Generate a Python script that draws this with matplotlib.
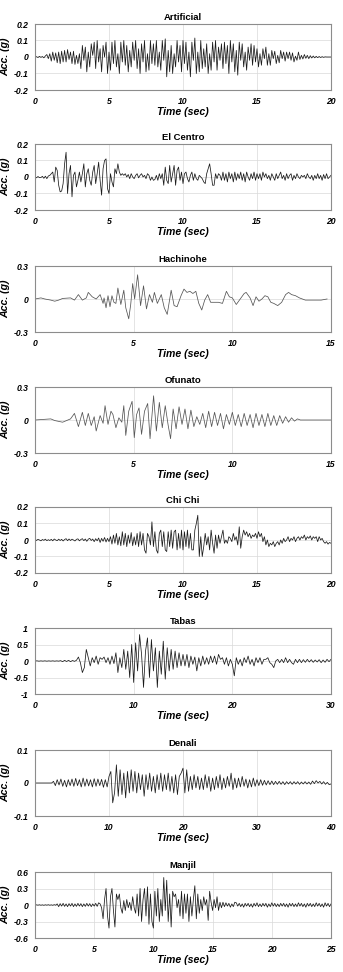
import numpy as np
import matplotlib
matplotlib.use("Agg")
import matplotlib.pyplot as plt
from matplotlib.ticker import FormatStrFormatter

plt.rcParams['font.family'] = ['Liberation Sans', 'DejaVu Sans']

# ---- data (acceleration in g) ----
names = ["Artificial", "El Centro", "Hachinohe", "Ofunato",
         "Chi Chi", "Tabas", "Denali", "Manjil"]
durations = [20, 20, 15, 15, 20, 30, 40, 25]
xticks = [[0, 5, 10, 15, 20], [0, 5, 10, 15, 20], [0, 5, 10, 15], [0, 5, 10, 15],
          [0, 5, 10, 15, 20], [0, 10, 20, 30], [0, 10, 20, 30, 40], [0, 5, 10, 15, 20, 25]]
yticks = [[-0.2, -0.1, 0, 0.1, 0.2], [-0.2, -0.1, 0, 0.1, 0.2], [-0.3, 0, 0.3], [-0.3, 0, 0.3],
          [-0.2, -0.1, 0, 0.1, 0.2], [-1, -0.5, 0, 0.5, 1], [-0.1, 0, 0.1],
          [-0.6, -0.3, 0, 0.3, 0.6]]

# Artificial, dt = 0.1 s
artificial = [
    0, 0.002, -0.003, 0.004, -0.002, 0.003, -0.005, 0.006,
    0.015, -0.01, 0.02, -0.025, 0.03, -0.02, 0.025, -0.035, 0.03, -0.04, 0.035, -0.03,
    0.04, -0.03, 0.045, -0.015, 0.03, -0.04, 0.035, -0.045, 0.01, -0.04,
    0.02, -0.07, 0.07, -0.02, 0.06, -0.09, 0.03, -0.06, 0.08, 0.01,
    0.09, -0.07, 0.1, -0.03, 0.05, -0.09, 0.07, 0.0, 0.09, -0.1,
    0.03, -0.08, 0.09, -0.04, 0.1, -0.06, 0.02, -0.1, 0.09, -0.03,
    0.1, -0.05, 0.07, -0.09, 0.04, -0.06, 0.09, -0.02, 0.1, -0.07,
    0.05, -0.1, 0.08, -0.03, 0.1, -0.09, 0.02, -0.08, 0.1, -0.04,
    0.08, -0.05, 0.1, -0.06, 0.03, -0.08, 0.1, -0.02, 0.11, -0.12,
    0.04, -0.09, 0.07, -0.1, 0.02, -0.06, 0.1, -0.03, 0.07, -0.09,
    0.1, -0.04, 0.09, -0.08, 0.03, -0.12, 0.09, -0.02, 0.115, -0.1,
    0.03, -0.09, 0.1, -0.07, 0.05, -0.06, 0.08, -0.1, 0.02, -0.08,
    0.09, -0.03, 0.1, -0.08, 0.06, -0.02, 0.08, -0.07, 0.09, -0.04,
    0.07, -0.1, 0.1, -0.03, 0.08, -0.09, 0.04, -0.11, 0.09, -0.02,
    0.08, -0.06, 0.03, -0.08, 0.06, -0.02, 0.08, -0.05, 0.07, -0.03,
    0.05, -0.06, 0.02, -0.05, 0.05, -0.01, 0.06, -0.05, 0.02, -0.05,
    0.04, -0.01, 0.035, -0.04, 0.01, -0.035, 0.04, -0.01, 0.03, -0.025,
    0.03, -0.01, 0.03, -0.02, 0.025, -0.03, 0.005, -0.02, 0.03, -0.015,
    0.01, -0.012, 0.015, -0.008, 0.01, -0.01, 0.008, -0.006, 0.006, -0.005,
    0.004, -0.004, 0.003, -0.003, 0.002, -0.002, 0.001, 0, 0, 0, 0,
]

# El Centro, dt = 0.1 s
el_centro = [
    0, -0.005, 0.003, -0.004, -0.003, 0.004, -0.008, 0.005, -0.01, 0.006,
    0.01, 0.02, 0.03, -0.03, 0.06, 0.04, -0.05, -0.09, -0.085, -0.04,
    0.08, 0.15, -0.1, 0.02, 0.07, -0.12, 0.01, 0.03, -0.06, -0.02,
    0.03, -0.03, 0.02, 0.08, -0.06, 0.02, 0.05, -0.02, -0.05, 0.03,
    0.07, -0.04, 0.02, 0.09, -0.02, -0.11, 0.05, 0.1, 0.11, -0.07,
    -0.1, 0.02, -0.03, -0.06, 0.05, 0.02, 0.08, 0.03, 0.01, 0.02,
    0.01, 0.02, 0.0, 0.015, -0.01, 0.02, 0.0, -0.01, 0.01, 0.02,
    -0.005, 0.01, 0.02, 0.0, 0.01, -0.01, 0.02, 0.01, -0.02, 0.0,
    -0.02, -0.015, 0.01, -0.02, 0.02, -0.01, 0.02, -0.05, 0.06, -0.02,
    -0.04, 0.07, -0.03, 0.02, 0.07, -0.05, 0.04, 0.06, -0.02, 0.03,
    -0.04, 0.02, 0.03, -0.01, -0.03, 0.01, 0.03, -0.02, 0.02, -0.01,
    -0.02, 0.01, 0.0, -0.01, -0.03, -0.04, 0.02, 0.05, 0.08, 0.02,
    -0.05, -0.05, 0.02, -0.01, 0.02, 0.01, -0.02, 0.03, -0.02, 0.02,
    -0.03, 0.03, -0.01, 0.02, -0.03, 0.03, -0.02, 0.02, -0.01, 0.03,
    -0.02, 0.02, -0.03, 0.03, 0.0, -0.02, 0.02, -0.01, 0.03, -0.02,
    0.02, -0.01, 0.02, -0.02, 0.03, 0.0, 0.02, -0.01, 0.01, -0.02,
    0.02, 0.0, -0.02, 0.02, -0.01, 0.01, 0.03, -0.01, 0.01, -0.02,
    0.02, -0.01, 0.01, 0.02, -0.02, 0.01, -0.01, 0.02, 0.0, -0.01,
    0.01, 0.0, 0.01, -0.01, 0.02, 0.0, -0.01, 0.01, -0.02, 0.01,
    -0.01, 0.02, -0.01, 0.01, -0.02, 0.015, -0.01, 0.02, -0.01, 0.0, 0.01,
]

# Hachinohe, irregular times
hachinohe_t = [0, 0.3, 0.5, 0.8, 1.0, 1.2, 1.4, 1.8, 2.0, 2.2, 2.4, 2.6, 2.7, 2.9, 3.1,
               3.3, 3.45, 3.5, 3.6, 3.7, 3.8, 3.9, 4.0, 4.1, 4.2, 4.35, 4.5, 4.6, 4.75,
               4.85, 4.95, 5.05, 5.2, 5.35, 5.5, 5.65, 5.8, 5.95, 6.05, 6.2, 6.4, 6.55,
               6.7, 6.9, 7.05, 7.2, 7.4, 7.55, 7.7, 7.85, 8.0, 8.15, 8.3, 8.45, 8.6, 8.75,
               8.9, 9.1, 9.3, 9.5, 9.7, 9.85, 10.0, 10.2, 10.4, 10.6, 10.7, 10.9, 11.05,
               11.2, 11.35, 11.5, 11.65, 11.8, 11.95, 12.1, 12.3, 12.5, 12.7, 12.85, 13.0,
               13.2, 13.4, 13.55, 13.7, 14.0, 14.5, 14.8]
hachinohe_a = [0.0, 0.01, 0.0, -0.01, -0.02, -0.01, 0.005, 0.01, -0.01, 0.04, -0.01, 0.01,
               0.06, 0.02, 0.0, 0.04, -0.04, 0.01, -0.08, 0.03, -0.07, 0.03, -0.03, -0.04,
               0.1, -0.05, 0.08, -0.08, -0.18, -0.05, 0.14, 0.0, 0.22, -0.06, 0.12, -0.09,
               0.04, -0.03, 0.06, -0.04, 0.04, -0.08, -0.14, 0.08, -0.06, -0.07, 0.03, 0.09,
               0.06, 0.07, 0.05, 0.07, -0.04, -0.1, -0.01, 0.04, -0.03, -0.03, -0.03, -0.04,
               0.07, 0.02, 0.01, -0.05, 0.0, 0.05, 0.06, 0.01, -0.06, 0.02, -0.02, 0.0, 0.03,
               0.02, -0.03, -0.04, -0.06, -0.03, 0.04, 0.06, 0.04, 0.03, 0.01, 0.0, -0.01,
               -0.01, -0.01, 0.0]

# Ofunato, irregular times
ofunato_t = [0, 0.4, 0.8, 1.0, 1.4, 1.8, 2.0, 2.2, 2.4, 2.55, 2.7, 2.85, 3.0, 3.1, 3.3, 3.45,
             3.55, 3.7, 3.85, 3.95, 4.1, 4.25, 4.4, 4.5, 4.6, 4.75, 4.92, 5.03, 5.15, 5.27,
             5.4, 5.55, 5.71, 5.83, 6.01, 6.15, 6.3, 6.45, 6.6, 6.75, 6.87, 7.0, 7.15, 7.3,
             7.45, 7.6, 7.75, 7.9, 8.05, 8.2, 8.35, 8.5, 8.65, 8.8, 8.95, 9.1, 9.25, 9.4,
             9.55, 9.7, 9.85, 10.0, 10.15, 10.3, 10.45, 10.6, 10.75, 10.9, 11.05, 11.2,
             11.35, 11.5, 11.65, 11.8, 11.95, 12.1, 12.25, 12.4, 12.55, 12.7, 12.85, 13.0,
             13.15, 13.3, 13.45, 13.6, 15.0]
ofunato_a = [0.0, 0.005, 0.01, -0.005, -0.02, 0.01, 0.06, -0.06, 0.07, -0.05, 0.06, -0.05,
             0.03, -0.1, 0.04, -0.03, 0.13, -0.04, 0.08, 0.05, -0.07, 0.02, -0.02, 0.13,
             -0.14, 0.08, 0.17, -0.16, 0.05, 0.11, -0.13, 0.08, 0.15, -0.17, 0.22, -0.1,
             0.16, -0.07, 0.13, -0.05, -0.17, 0.1, -0.08, 0.12, -0.04, 0.1, -0.08, 0.09,
             -0.06, 0.03, -0.04, 0.06, -0.07, 0.08, -0.06, 0.07, -0.05, 0.06, -0.08, 0.05,
             -0.04, 0.07, -0.05, 0.05, -0.06, 0.06, -0.05, 0.05, -0.07, 0.06, -0.05, 0.05,
             -0.06, 0.06, -0.05, 0.04, -0.05, 0.04, -0.03, 0.03, -0.02, 0.02, -0.01, 0.01,
             0.0, 0.0, 0.0]

# Chi Chi, dt = 0.1 s
chi_chi = [
    0.005, -0.003, 0.004, 0.0, -0.005, 0.003, -0.002, 0.005, -0.004, 0.002,
    -0.003, 0.004, -0.005, 0.006, 0.0, -0.004, 0.005, -0.003, 0.004, -0.006,
    0.003, 0.008, -0.004, 0.006, -0.003, 0.005, 0.0, -0.006, 0.004, 0.007,
    -0.005, 0.003, 0.008, -0.004, 0.006, -0.008, 0.005, 0.01, -0.003, 0.006,
    -0.01, 0.008, -0.005, 0.012, -0.015, 0.01, -0.008, 0.015, -0.012, 0.01,
    -0.01, 0.02, -0.025, 0.03, -0.02, 0.04, -0.03, 0.02, -0.035, 0.05,
    -0.03, 0.04, -0.04, 0.03, -0.02, 0.045, -0.035, 0.02, -0.03, 0.04,
    -0.04, 0.05, -0.03, 0.04, -0.06, -0.08, 0.04, 0.02, -0.03, 0.11,
    -0.04, 0.05, -0.06, -0.08, 0.04, 0.06, -0.04, 0.05, -0.06, -0.07,
    0.05, -0.04, 0.06, -0.05, 0.05, 0.06, -0.06, 0.04, -0.05, 0.06,
    -0.06, 0.05, -0.04, 0.06, -0.05, 0.04, -0.06, -0.06, 0.06, 0.1,
    0.15, -0.1, 0.02, -0.1, -0.04, 0.04, -0.03, 0.02, -0.06, 0.06,
    -0.02, -0.08, 0.03, -0.05, 0.03, -0.02, 0.02, 0.06, -0.02, 0.0,
    -0.02, 0.02, 0.01, -0.01, 0.04, 0.0, 0.02, -0.03, 0.08, -0.05,
    0.02, 0.06, 0.03, 0.05, 0.02, 0.04, 0.01, 0.03, 0.02, 0.04,
    0.01, 0.05, 0.02, 0.04, -0.01, 0.02, -0.03, 0.0, -0.04, -0.02,
    -0.03, -0.01, -0.04, -0.02, -0.01, -0.03, 0.0, -0.02, 0.01, -0.01,
    0.0, 0.02, -0.01, 0.01, 0.0, 0.02, -0.01, 0.01, 0.02, 0.0,
    0.02, 0.01, 0.03, 0.0, 0.02, 0.01, 0.025, 0.0, 0.02, 0.01,
    0.02, -0.01, 0.02, 0.0, 0.01, -0.01, -0.02, -0.01, -0.025, -0.015, -0.02,
]

# Tabas, dt = 0.2 s
tabas = [
    0, 0.005, -0.005, 0.004, -0.004, 0.005, -0.005, 0.004, -0.004, 0.005, -0.005,
    0.004, -0.004, 0.01, -0.02, 0.02, -0.015, 0.02, -0.02, 0.015, -0.01, 0.02,
    0.12, -0.05, -0.35, -0.2, 0.35, 0.1, -0.15, 0.1, -0.05, 0.15, -0.1, 0.1, 0.05,
    0.12, -0.05, 0.1, -0.1, 0.15, -0.08, 0.25, -0.35, 0.1, -0.2, 0.35, -0.25, 0.3,
    -0.5, 0.5, -0.65, 0.55, -0.3, 0.8, 0.2, -0.8,
    0.3, 0.7, -0.5, 0.65, -0.3, 0.4, -0.8, 0.3, -0.4, 0.6,
    -0.55, 0.4, -0.3, 0.35, -0.25, 0.3, -0.2, 0.25, -0.15, 0.2,
    -0.15, 0.2, -0.2, 0.15, -0.1, 0.12, -0.3, 0.1, -0.15, 0.15,
    -0.1, 0.1, -0.1, 0.15, -0.05, 0.15, -0.1, 0.2, 0.05, 0.1,
    -0.1, 0.1, -0.15, 0.05, -0.1,
    -0.45, 0.1, -0.1, 0.05, -0.15, 0.1, -0.05, 0.15, -0.1, 0.05,
    -0.15, 0.1, -0.05, 0.1, -0.1, 0.05, 0.05, 0.1, -0.05, -0.1,
    -0.2, 0.0, 0.05, -0.05, 0.05, -0.05, 0.1, -0.05, 0.05, -0.05,
    -0.1, 0.05, -0.05, 0.05, -0.05, 0.04, -0.04, 0.05, -0.03, 0.04,
    -0.04, 0.03, -0.03, 0.04, -0.05, 0.03, -0.04, 0.05, -0.02, 0.05,
]

# Denali, dt = 0.25 s
denali = [
    0, 0, 0, 0, 0, 0, 0, 0, 0, 0,
    0.005, -0.008, 0.01, -0.006, 0.012, -0.01, 0.008, -0.012, 0.01, -0.008,
    0.012, -0.01, 0.014, -0.008, 0.01, -0.012, 0.015, -0.01, 0.012, -0.009,
    0.01, -0.012, 0.013, -0.01, 0.012, -0.008, 0.011, -0.013, 0.01, -0.012,
    0.02, 0.035, -0.06, -0.03, 0.055, -0.04, 0.04, -0.035, 0.03, -0.045,
    0.035, -0.03, 0.04, -0.025, 0.035, -0.03, 0.03, -0.02, 0.025, -0.04,
    0.025, -0.02, 0.03, -0.025, 0.02, -0.03, 0.025, -0.02, 0.03, -0.025,
    0.025, -0.02, 0.03, -0.025, 0.02, -0.03, 0.025, -0.035, 0.02, 0.03,
    0.045, -0.03, 0.04, -0.025, 0.02, -0.02, 0.025, -0.015, 0.02, -0.02,
    0.015, -0.02, 0.025, -0.015, 0.02, -0.025, 0.015, -0.02, 0.02, -0.015,
    0.025, -0.02, 0.015, -0.015, 0.02, -0.01, 0.03, -0.02, 0.015, -0.015,
    0.015, -0.012, 0.02, -0.01, 0.012, -0.015, 0.01, -0.012, 0.015, -0.01,
    0.01, -0.008, 0.01, -0.007, 0.008, -0.006, 0.007, -0.005, 0.006, -0.005,
    0.005, -0.004, 0.005, -0.004, 0.004, -0.005, 0.004, -0.003, 0.004, -0.004,
    0.004, -0.003, 0.004, -0.004, 0.003, -0.003, 0.004, -0.003, 0.003, -0.004,
    0.006, -0.002, 0.007, 0.0, 0.005, -0.003, 0.004, -0.004, 0.002, -0.005, -0.003,
]

# Manjil, dt = 0.125 s
manjil = [
    0, 0.003, -0.003, 0.004, -0.004, 0.003, -0.005, 0.004, -0.003, 0.005, -0.004,
    0.003, -0.005, 0.006, -0.004,
    0.02, -0.03, 0.025, -0.02, 0.03, -0.025, 0.02, -0.03, 0.025, -0.02, 0.03, -0.03,
    0.02, -0.025, 0.03, -0.02, 0.025, -0.03, 0.02, -0.025, 0.03, -0.02, 0.025, -0.03,
    0.02, -0.02, 0.03, -0.025, 0.04,
    0.02, -0.05, -0.25, 0.1, 0.3, -0.2, -0.42, 0.15, 0.3, -0.1, -0.4, 0.2,
    0.1, 0.2, -0.05, -0.15, 0.08, -0.1, 0.1, -0.05, 0.05, -0.1, 0.15, -0.05,
    -0.15, 0.2, -0.2, 0.3, -0.3, 0.1, 0.3, -0.2, 0.33, -0.35, 0.2, -0.3,
    -0.42, 0.25, -0.2, 0.3, -0.3, 0.1, -0.2, 0.5, -0.1, 0.45, -0.3, 0.2,
    -0.4, 0.25, 0.15, 0.2, -0.05, 0.1, -0.2, 0.25, -0.25, 0.2, -0.15, 0.2,
    -0.3, 0.15, -0.2, 0.1, 0.35, -0.25, 0.2, -0.15, 0.1, -0.1, 0.15, 0.0,
    0.1, -0.28, 0.25, 0.05, -0.1, 0.1, -0.05, 0.15, -0.1, 0.05, -0.05, 0.05,
    -0.03, 0.04, -0.02, 0.03, -0.04, 0.02, -0.03, 0.05,
    0.04, -0.02, 0.03, -0.03, 0.02, -0.04, 0.03, -0.02,
    0.03, -0.03, 0.02, -0.04, 0.03, -0.02, 0.04, -0.03,
    0.02, -0.03, 0.03, -0.02, 0.03, -0.04, 0.02, -0.03,
    0.04, -0.02, 0.03, -0.03, 0.02, -0.03, 0.03, -0.02,
    0.03, -0.03, 0.02, -0.04, 0.03, -0.02, 0.03, -0.03,
    0.02, -0.03, 0.04, -0.02, 0.03, -0.03, 0.02, -0.04,
    0.03, -0.02, 0.03, -0.03, 0.02, -0.03, 0.04, -0.02,
    0.03, -0.03, 0.02, -0.04, 0.04, -0.02, 0.03, -0.03, 0.02,
]

steps = [0.1, 0.1, None, None, 0.1, 0.2, 0.25, 0.125]
series = [artificial, el_centro, hachinohe_a, ofunato_a, chi_chi, tabas, denali, manjil]
times = {2: hachinohe_t, 3: ofunato_t}

# ---- layout ----
W, H = 343, 972
fig = plt.figure(figsize=(W / 100, H / 100), dpi=100)
tops = [24, 144, 266, 387, 507, 628, 750, 872]
left, right, hgt = 35, 331, 66

for i, name in enumerate(names):
    ax = fig.add_axes([left / W, 1 - (tops[i] + hgt) / H, (right - left) / W, hgt / H])
    if i in times:
        t = np.array(times[i])
    else:
        t = np.arange(len(series[i])) * steps[i]
    col = '#555555' if i in (2, 3) else '#1a1a1a'
    ax.plot(t, series[i], color=col, lw=0.55)
    ax.set_xlim(0, durations[i])
    ax.set_ylim(yticks[i][0], yticks[i][-1])
    ax.set_xticks(xticks[i])
    ax.set_yticks(yticks[i])
    ax.yaxis.set_major_formatter(FormatStrFormatter('%g'))
    ax.grid(True, color='#d9d9d9', lw=0.5)
    ax.set_axisbelow(True)
    for s in ax.spines.values():
        s.set_color('#8c8c8c')
        s.set_linewidth(0.8)
    ax.tick_params(length=0, labelsize=6.2, pad=5)
    for lab in ax.get_xticklabels() + ax.get_yticklabels():
        lab.set_fontweight('bold')
        lab.set_fontstyle('italic')
    ax.set_title(name, fontsize=6.8, fontweight='bold', pad=3)
    ax.set_xlabel('Time (sec)', fontsize=7.6, fontweight='bold', fontstyle='italic', labelpad=1)
    ax.set_ylabel('Acc. (g)', fontsize=7.6, fontweight='bold', fontstyle='italic', labelpad=2)

fig.savefig('out.png', dpi=100)
